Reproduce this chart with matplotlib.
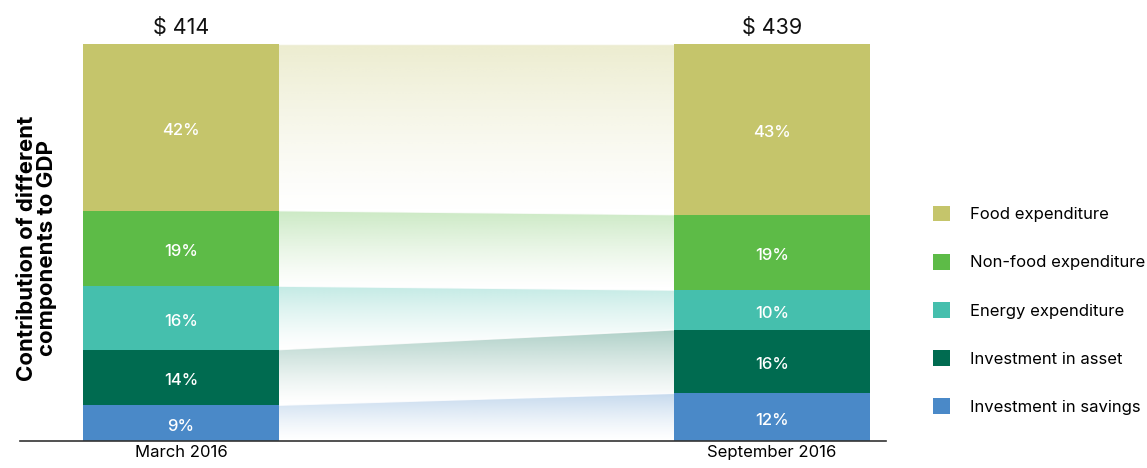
import numpy as np
import matplotlib.pyplot as plt
from matplotlib.patches import Patch, Polygon
from matplotlib.colors import to_rgb

plt.rcParams['font.family'] = ['Inter', 'DejaVu Sans']

# Data (bottom to top of the stack)
categories = ['Investment in savings', 'Investment in asset', 'Energy expenditure',
              'Non-food expenditure', 'Food expenditure']
colors = ['#4A89C8', '#006B50', '#45BFAD', '#5DBB47', '#C5C56B']
periods = ['March 2016', 'September 2016']
totals = ['$ 414', '$ 439']
march = [9, 14, 16, 19, 42]
september = [12, 16, 10, 19, 43]

fig = plt.figure(figsize=(11.47, 4.68), dpi=100)
ax = fig.add_axes([20 / 1147, 27 / 468, 866 / 1147, 397 / 468])

width = 0.3316
x = [0, 1]
values = [march, september]

# stacked bars
bottoms = [np.concatenate([[0], np.cumsum(v)[:-1]]) for v in values]
tops = [np.cumsum(v) for v in values]
for i in range(2):
    for j, cat in enumerate(categories):
        ax.bar(x[i], values[i][j], width, bottom=bottoms[i][j], color=colors[j],
               edgecolor='none', zorder=3)
        ax.text(x[i], bottoms[i][j] + values[i][j] / 2 - 0.8, f"{values[i][j]}%",
                ha='center', va='center', color='white', fontsize=12,
                fontweight='medium', zorder=4)
    ax.text(x[i], 101.5, totals[i], ha='center', va='bottom', fontsize=15.5, color='#111111')

# gradient bands connecting the bars
x0 = x[0] + width / 2
x1 = x[1] - width / 2
for j in range(len(categories)):
    lb, lt = bottoms[0][j], tops[0][j]
    rb, rt = bottoms[1][j], tops[1][j]
    poly = Polygon([[x0, lb], [x0, lt], [x1, rt], [x1, rb]], closed=True,
                   facecolor='none', edgecolor='none')
    ax.add_patch(poly)
    ymin, ymax = min(lb, rb), max(lt, rt)
    grad = np.linspace(0, 1, 256) ** 1.3
    img = np.zeros((256, 1, 4))
    img[:, 0, :3] = to_rgb(colors[j])
    img[:, 0, 3] = 0.32 * grad
    im = ax.imshow(img, extent=[x0, x1, ymin, ymax], origin='lower',
                   aspect='auto', interpolation='bilinear', zorder=2)
    im.set_clip_path(poly)
    # thin light edge along the top of each band
    ax.plot([x0, x1], [lt, rt], color='white', lw=1.0, alpha=0.8, zorder=2.5)

ax.set_xlim(-0.2724, 1.1929)
ax.set_ylim(0, 100)
for s in ['top', 'right', 'left']:
    ax.spines[s].set_visible(False)
ax.spines['bottom'].set_color('#333333')
ax.spines['bottom'].set_linewidth(1.2)
ax.spines['bottom'].set_zorder(5)
ax.set_yticks([])
ax.set_xticks(x)
ax.set_xticklabels(periods, fontsize=12)
ax.tick_params(axis='x', length=0, pad=3)

fig.text(37 / 1147, 1 - 248 / 468, 'Contribution of different\ncomponents to GDP',
         rotation=90, ha='center', va='center', fontsize=16, fontweight='bold',
         linespacing=1.0)

handles = [Patch(facecolor=colors[j], edgecolor='none') for j in range(4, -1, -1)]
labels = [categories[j] for j in range(4, -1, -1)]
fig.legend(handles, labels, loc='upper left', bbox_to_anchor=(933 / 1147, 1 - 206 / 468),
           frameon=False, fontsize=12, handlelength=1.05, handleheight=1.05,
           handletextpad=1.15, labelspacing=1.9, borderpad=0, borderaxespad=0)

fig.savefig('out.png', dpi=100)
